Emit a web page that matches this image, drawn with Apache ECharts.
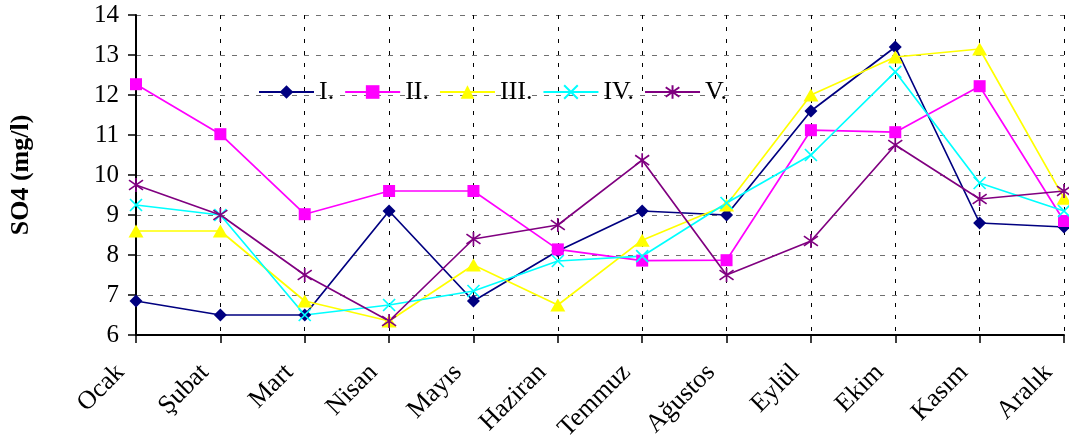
<!DOCTYPE html>
<html>
<head>
<meta charset="utf-8">
<script src="https://cdn.jsdelivr.net/npm/echarts@6/dist/echarts.min.js"></script>
<style>
  html, body { margin: 0; padding: 0; background: #ffffff; }
  #chart { width: 1069px; height: 445px; }
</style>
</head>
<body>
<div id="chart"></div>
<script>
// Monthly SO4 concentrations (mg/l) at five sampling stations
const months = ['Ocak', 'Şubat', 'Mart', 'Nisan', 'Mayıs', 'Haziran', 'Temmuz', 'Ağustos', 'Eylül', 'Ekim', 'Kasım', 'Aralık'];
const stationI   = [6.85, 6.5, 6.5, 9.1, 6.85, 8.1, 9.1, 9.0, 11.6, 13.2, 8.8, 8.7];
const stationII  = [12.27, 11.02, 9.02, 9.6, 9.6, 8.14, 7.86, 7.87, 11.12, 11.07, 12.22, 8.85];
const stationIII = [8.6, 8.6, 6.85, 6.35, 7.75, 6.75, 8.37, 9.25, 12.0, 12.95, 13.15, 9.42];
const stationIV  = [9.25, 9.0, 6.5, 6.75, 7.1, 7.85, 7.97, 9.3, 10.5, 12.58, 9.8, 9.1];
const stationV   = [9.75, 9.0, 7.5, 6.35, 8.4, 8.75, 10.37, 7.5, 8.35, 10.75, 9.4, 9.6];
const yTicks = { min: 6, max: 14, step: 1 };

const serif = '"Liberation Serif", "Times New Roman", serif';

const crossPath = 'path://M0,0L10,10M10,0L0,10';
const starPath = 'path://M5,0L5,10M0,1.5L10,8.5M10,1.5L0,8.5';

function lineSeries(name, data, color, symbol, size, strokeOnly) {
  return {
    name: name,
    type: 'line',
    data: data,
    symbol: symbol,
    symbolSize: size,
    showAllSymbol: true,
    lineStyle: { color: color, width: 1.7 },
    itemStyle: strokeOnly
      ? { color: color, borderColor: color, borderWidth: 1.7 }
      : { color: color, borderWidth: 0 },
    emphasis: { disabled: true },
    animation: false
  };
}

const chart = echarts.init(document.getElementById('chart'), null, { renderer: 'canvas' });

chart.setOption({
  backgroundColor: '#ffffff',
  animation: false,
  grid: { left: 136, right: 5, top: 15, bottom: 110, containLabel: false },
  legend: {
    left: 253,
    top: 74,
    itemWidth: 55,
    itemHeight: 17,
    itemGap: 10,
    textStyle: { fontFamily: serif, fontSize: 26, color: '#000000' },
    selectedMode: false,
    data: ['I.', 'II.', 'III.', 'IV.', 'V.']
  },
  xAxis: {
    type: 'category',
    data: months,
    boundaryGap: false,
    axisLine: { lineStyle: { color: '#000000', width: 2 } },
    axisTick: { show: true, length: 8, lineStyle: { color: '#000000', width: 1.5 } },
    axisLabel: {
      rotate: 45,
      margin: 18,
      padding: [0, 22, 0, 0],
      fontFamily: serif,
      fontSize: 26,
      color: '#000000',
      interval: 0
    },
    splitLine: { show: true, lineStyle: { color: '#000000', width: 1, type: [4, 8] } }
  },
  yAxis: {
    type: 'value',
    min: yTicks.min,
    max: yTicks.max,
    interval: yTicks.step,
    name: 'SO4 (mg/l)',
    nameLocation: 'middle',
    nameGap: 102,
    nameTextStyle: { fontFamily: serif, fontSize: 26, fontWeight: 'bold', color: '#000000' },
    axisLine: { show: true, lineStyle: { color: '#000000', width: 2 } },
    axisTick: { show: true, length: 8, lineStyle: { color: '#000000', width: 1.5 } },
    axisLabel: { margin: 17, fontFamily: serif, fontSize: 25, color: '#000000' },
    splitLine: { show: true, lineStyle: { color: '#707070', width: 1, type: [5, 7] } }
  },
  series: [
    lineSeries('I.', stationI, '#000080', 'diamond', 13, false),
    lineSeries('II.', stationII, '#FF00FF', 'rect', 12, false),
    lineSeries('III.', stationIII, '#FFFF00', 'triangle', [15, 13], false),
    lineSeries('IV.', stationIV, '#00FFFF', crossPath, 12, true),
    lineSeries('V.', stationV, '#800080', starPath, 14, true)
  ]
});
</script>
</body>
</html>
